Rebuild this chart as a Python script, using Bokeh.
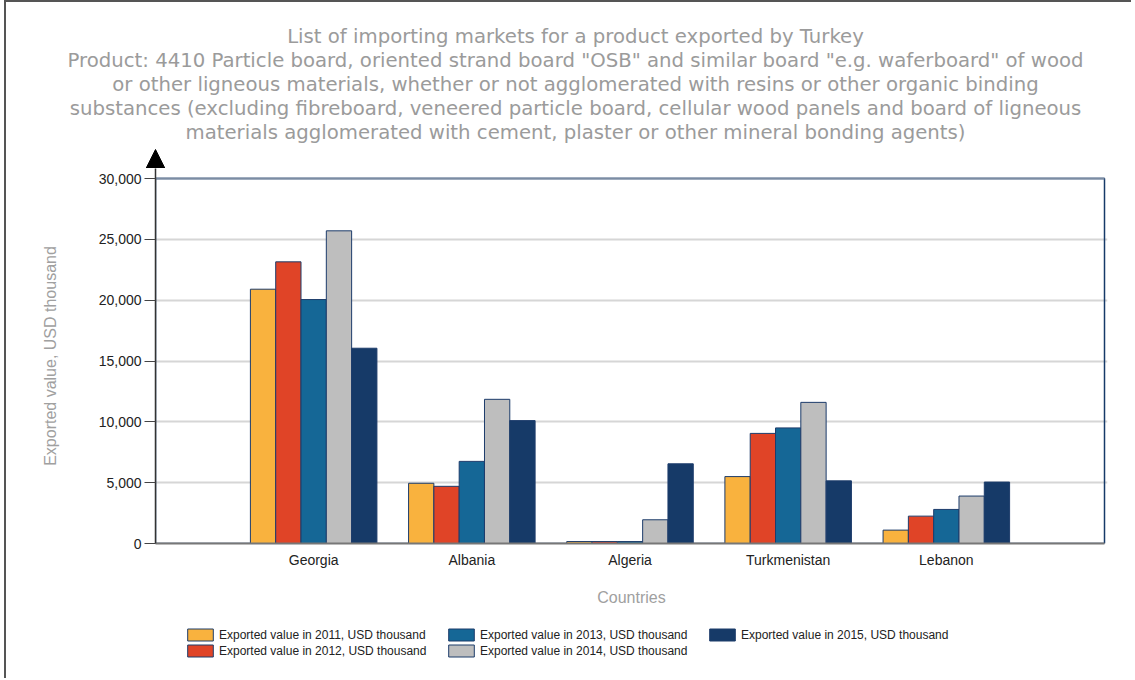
from bokeh.plotting import figure
from bokeh.layouts import column
from bokeh.models import (ColumnDataSource, FixedTicker, NumeralTickFormatter, Label,
                          Legend, LegendItem, Arrow, NormalHead, BoxAnnotation)
from bokeh.transform import dodge
from bokeh.embed import file_html
from bokeh.resources import INLINE

# ---- data ----
countries = ["Georgia", "Albania", "Algeria", "Turkmenistan", "Lebanon"]
series_names = [
    "Exported value in 2011, USD thousand",
    "Exported value in 2012, USD thousand",
    "Exported value in 2013, USD thousand",
    "Exported value in 2014, USD thousand",
    "Exported value in 2015, USD thousand",
]
v2011 = [20900, 4950, 160, 5500, 1100]
v2012 = [23150, 4700, 160, 9050, 2250]
v2013 = [20050, 6750, 160, 9500, 2800]
v2014 = [25700, 11850, 1950, 11600, 3900]
v2015 = [16050, 10100, 6550, 5150, 5050]
colors = ["#F9B23E", "#E04427", "#156796", "#BEBEBE", "#163A68"]
y_ticks = [0, 5000, 10000, 15000, 20000, 25000, 30000]
y_max = 30000
title_lines = [
    "List of importing markets for a product exported by Turkey",
    'Product: 4410 Particle board, oriented strand board "OSB" and similar board "e.g. waferboard" of wood',
    "or other ligneous materials, whether or not agglomerated with resins or other organic binding",
    "substances (excluding fibreboard, veneered particle board, cellular wood panels and board of ligneous",
    "materials agglomerated with cement, plaster or other mineral bonding agents)",
]

FONT = "Liberation Sans"
W = 1125
HT = 166      # title strip height
AXIS_H = 365  # pixels from 0 to y_max
EXTRA = 10    # pixels of y-axis shown above y_max (axis runs up to the arrow)
HM = AXIS_H + EXTRA + 72
HL = 63       # legend strip height
AREA_W = 949  # pixels of the bordered plot area
PAD_R = 3     # frame pixels right of the border so the border line is not clipped


def strip(height):
    f = figure(width=W, height=height, x_range=(0, W), y_range=(0, height),
               output_backend="svg", toolbar_location=None,
               x_axis_location=None, y_axis_location=None,
               min_border_left=0, min_border_right=0, min_border_top=0, min_border_bottom=0)
    f.grid.grid_line_color = None
    f.outline_line_color = None
    f.frame_align = False
    return f


# ---- title strip ----
t = strip(HT)
line_offsets = [34, 58, 82, 106, 130]
for txt, dy in zip(title_lines, line_offsets):
    t.add_layout(Label(x=569, y=HT - dy, text=txt, text_align="center", text_baseline="middle",
                       text_font="DejaVu Sans", text_font_size="19.7px", text_color="#9b9b9b"))
# y-axis arrow head
t.add_layout(Arrow(x_start=149, y_start=0, x_end=149, y_end=19,
                   line_color="#222222", line_width=1.5,
                   end=NormalHead(size=22, fill_color="black", line_color="black")))

# ---- main chart ----
positions = list(range(1, len(countries) + 1))
source = ColumnDataSource(dict(x=positions, countries=countries,
                               v2011=v2011, v2012=v2012, v2013=v2013,
                               v2014=v2014, v2015=v2015))
cols = ["v2011", "v2012", "v2013", "v2014", "v2015"]

n_slots = len(countries) + 1
p = figure(width=W, height=HM, x_range=(0, n_slots * (AREA_W + PAD_R) / AREA_W),
           y_range=(0, y_max * (AXIS_H + EXTRA) / AXIS_H),
           output_backend="svg", toolbar_location=None,
           min_border_left=149, min_border_top=0, min_border_right=27 - PAD_R, min_border_bottom=72)
p.frame_align = False
p.outline_line_color = None

# plot-area border (top at y_max)
p.add_layout(BoxAnnotation(left=0, right=n_slots, bottom=0, top=y_max, fill_color=None,
                           line_color="#163A68", line_alpha=1.0, line_width=1.5,
                           level="underlay"))

bar_w = 0.16
offsets = [-0.32, -0.16, 0.0, 0.16, 0.32]
for col, off, c in zip(cols, offsets, colors):
    p.vbar(x=dodge("x", off), top=col, width=bar_w, bottom=0, source=source,
           fill_color=c, line_color="#1d3c6b", line_width=1)

p.xgrid.grid_line_color = None
p.ygrid.grid_line_color = "#d6d6d6"
p.ygrid.grid_line_width = 2
p.ygrid.ticker = FixedTicker(ticks=y_ticks[:-1])
p.ygrid.bounds = (0, n_slots)
p.add_layout(BoxAnnotation(left=0, right=n_slots, bottom=y_max, top=y_max, fill_color=None,
                           line_color="#7b8ca3", line_alpha=1.0, line_width=2,
                           level="underlay"))

p.yaxis.ticker = FixedTicker(ticks=y_ticks)
p.yaxis.formatter = NumeralTickFormatter(format="0,0")
p.yaxis.axis_line_color = "#333333"
p.yaxis.axis_line_width = 1.5
p.yaxis.major_tick_line_color = "#444444"
p.yaxis.major_tick_out = 11
p.yaxis.major_tick_in = 0
p.yaxis.minor_tick_line_color = None
p.yaxis.major_label_text_font = FONT
p.yaxis.major_label_text_font_size = "14px"
p.yaxis.major_label_text_color = "#222222"
p.yaxis.major_label_standoff = 3
p.yaxis.axis_label = "Exported value, USD thousand"
p.yaxis.axis_label_text_font = FONT
p.yaxis.axis_label_text_font_size = "16px"
p.yaxis.axis_label_text_font_style = "normal"
p.yaxis.axis_label_text_color = "#a0a0a0"
p.yaxis.axis_label_standoff = 37

p.xaxis.ticker = FixedTicker(ticks=positions)
p.xaxis.major_label_overrides = {pos: name for pos, name in zip(positions, countries)}
p.xaxis.bounds = (0, n_slots)
p.xaxis.axis_line_color = "#777777"
p.xaxis.axis_line_width = 2
p.xaxis.major_tick_line_color = None
p.xaxis.major_tick_out = 0
p.xaxis.major_tick_in = 0
p.xaxis.minor_tick_line_color = None
p.xaxis.major_label_text_font = FONT
p.xaxis.major_label_text_font_size = "14px"
p.xaxis.major_label_text_color = "#222222"
p.xaxis.major_label_standoff = 8
p.xaxis.axis_label = "Countries"
p.xaxis.axis_label_text_font = FONT
p.xaxis.axis_label_text_font_size = "16px"
p.xaxis.axis_label_text_font_style = "normal"
p.xaxis.axis_label_text_color = "#a0a0a0"
p.xaxis.axis_label_standoff = 18

# ---- legend strip (keys bound to the same series, renderers hidden) ----
lg = strip(HL)
key_renderers = [lg.vbar(x="x", top=col, width=bar_w, source=source, visible=False,
                         fill_color=c, line_color="#1d3c6b", line_width=1)
                 for col, c in zip(cols, colors)]
legend = Legend(items=[LegendItem(label=n, renderers=[r]) for n, r in zip(series_names, key_renderers)],
                location=(178, 20), orientation="vertical", nrows=2,
                padding=0, margin=0, spacing=1,
                glyph_width=32, glyph_height=15, label_height=14, label_width=225,
                label_standoff=3, label_text_font=FONT, label_text_font_size="12px",
                label_text_color="#222222", inactive_fill_alpha=0,
                background_fill_alpha=0, border_line_alpha=0)
lg.add_layout(legend, "center")

layout = column(t, p, lg, spacing=0)
layout.styles = {"margin-left": "4px",
                 "border-left": "2px solid #555555", "border-top": "2px solid #555555"}

open("out.html", "w").write(file_html(layout, INLINE))
